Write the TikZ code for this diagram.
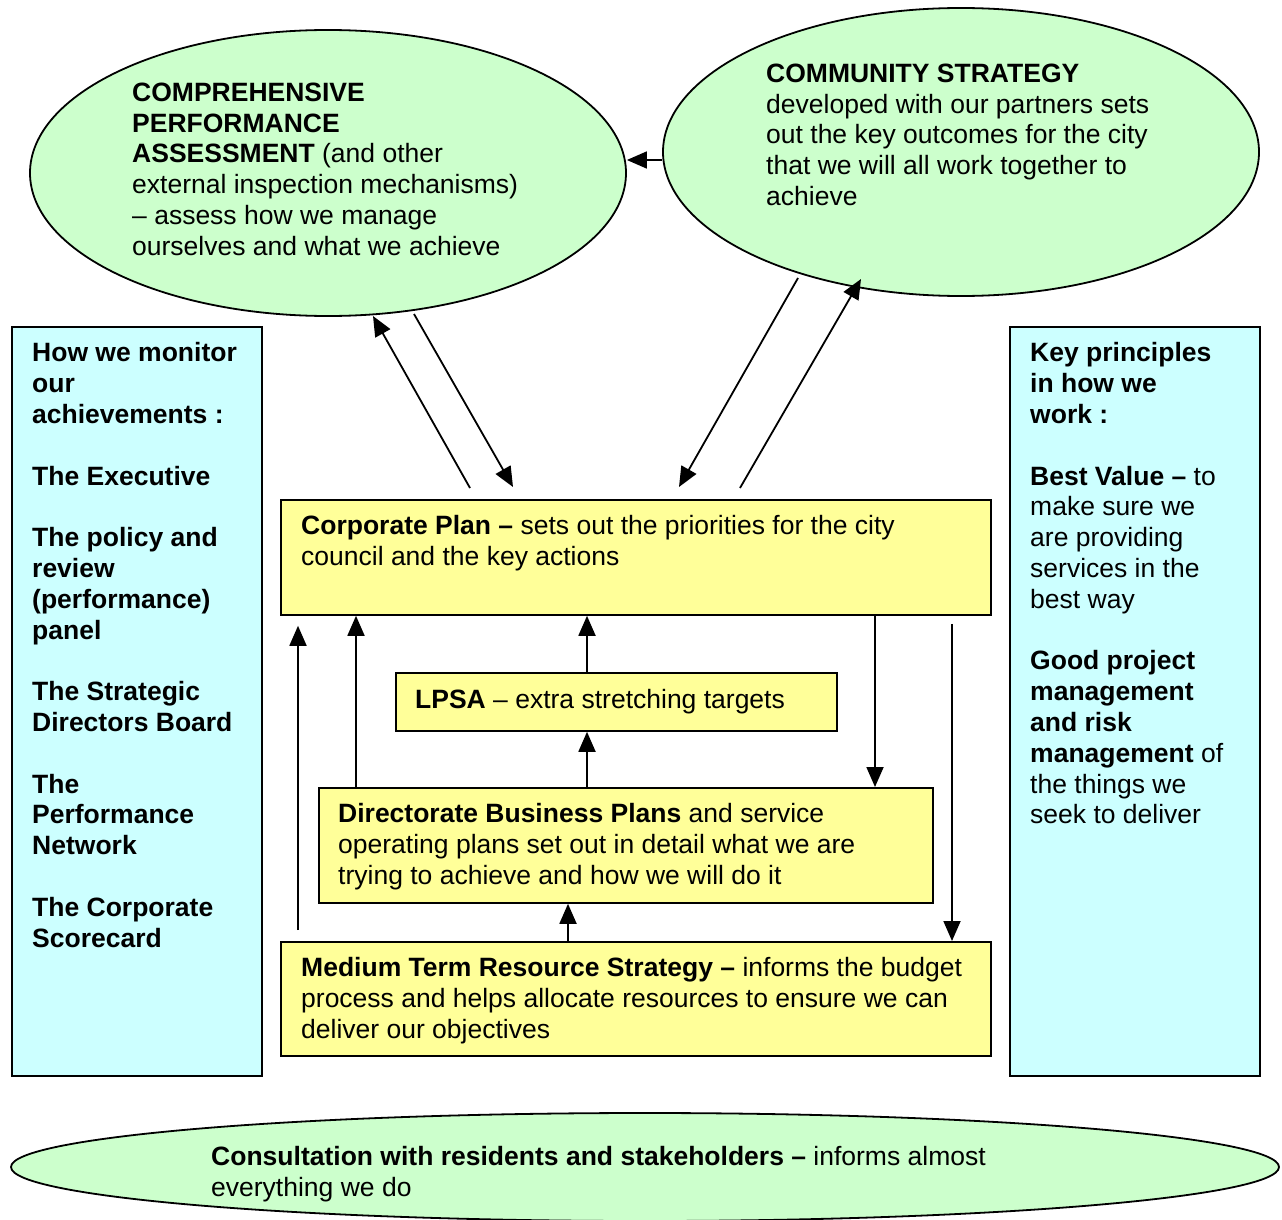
\documentclass[tikz,border=0pt]{standalone}
\usepackage{fontspec}
\setmainfont{Liberation Sans}
\usetikzlibrary{arrows.meta,shapes.geometric}
\definecolor{egreen}{HTML}{CCFFCC}
\definecolor{byellow}{HTML}{FFFF99}
\definecolor{bcyan}{HTML}{CCFFFF}
\tikzset{
  oval/.style={ellipse,draw=black,line width=1.8pt,fill=egreen,inner sep=0pt},
  ybox/.style={rectangle,draw=black,line width=1.8pt,fill=byellow,inner sep=0pt,anchor=north west},
  cbox/.style={rectangle,draw=black,line width=1.8pt,fill=bcyan,inner sep=0pt,anchor=north west},
  txt/.style={inner sep=0pt,anchor=north west,align=left,font=\fontsize{26.5}{30.8}\selectfont},
  arr/.style={line width=1.8pt,-{Triangle[length=20pt,width=17pt]}},
}
\begin{document}
\begin{tikzpicture}[x=1pt,y=-1pt]
\useasboundingbox (0,0) rectangle (1282,1220);
% ellipses
\node[oval,minimum width=596,minimum height=286] (cpa) at (328,173) {};
\node[oval,minimum width=596,minimum height=288] (cs) at (961,152) {};
\node[oval,minimum width=1268,minimum height=108] (cons) at (645,1167) {};
% side boxes
\node[cbox,minimum width=250,minimum height=749] (mon) at (11,326) {};
\node[cbox,minimum width=250,minimum height=749] (key) at (1009,326) {};
% yellow boxes
\node[ybox,minimum width=710,minimum height=115] (corp) at (280,499) {};
\node[ybox,minimum width=441,minimum height=58] (lpsa) at (395,672) {};
\node[ybox,minimum width=614,minimum height=115] (dir) at (318,787) {};
\node[ybox,minimum width=710,minimum height=114] (mtrs) at (280,941) {};
% texts
\node[txt] (cpat) at (132,82.5) {\textbf{COMPREHENSIVE}\\\textbf{PERFORMANCE}\\\textbf{ASSESSMENT} (and other\\external inspection mechanisms)\\– assess how we manage\\ourselves and what we achieve};
\node[txt] (cst) at (766,63.5) {\textbf{COMMUNITY STRATEGY}\\developed with our partners sets\\out the key outcomes for the city\\that we will all work together to\\achieve};
\node[txt] (mont) at (32,342.5) {\textbf{How we monitor}\\\textbf{our}\\\textbf{achievements :}\\[30.8pt]\textbf{The Executive}\\[30.8pt]\textbf{The policy and}\\\textbf{review}\\\textbf{(performance)}\\\textbf{panel}\\[30.8pt]\textbf{The Strategic}\\\textbf{Directors Board}\\[30.8pt]\textbf{The}\\\textbf{Performance}\\\textbf{Network}\\[30.8pt]\textbf{The Corporate}\\\textbf{Scorecard}};
\node[txt] (keyt) at (1030,342.5) {\textbf{Key principles}\\\textbf{in how we}\\\textbf{work :}\\[30.8pt]\textbf{Best Value –} to\\make sure we\\are providing\\services in the\\best way\\[30.8pt]\textbf{Good project}\\\textbf{management}\\\textbf{and risk}\\\textbf{management} of\\the things we\\seek to deliver};
\node[txt] (corpt) at (301,515.5) {\textbf{Corporate Plan –} sets out the priorities for the city\\council and the key actions};
\node[txt] (lpsat) at (415,689.5) {\textbf{LPSA} – extra stretching targets};
\node[txt] (dirt) at (338,803.5) {\textbf{Directorate Business Plans} and service\\operating plans set out in detail what we are\\trying to achieve and how we will do it};
\node[txt] (mtrst) at (301,957.5) {\textbf{Medium Term Resource Strategy –} informs the budget\\process and helps allocate resources to ensure we can\\deliver our objectives};
\node[txt] (const) at (211,1146) {\textbf{Consultation with residents and stakeholders –} informs almost\\everything we do};
% connector end points
\coordinate (a1s) at (470,488); \coordinate (a1e) at (373,316);
\coordinate (a2s) at (414,314); \coordinate (a2e) at (513,487);
\coordinate (a3s) at (798,278); \coordinate (a3e) at (679,487);
\coordinate (a4s) at (740,488); \coordinate (a4e) at (861,279);
\coordinate (xa) at (298,0); \coordinate (xb) at (356,0); \coordinate (xc) at (587,0);
\coordinate (xd) at (568,0); \coordinate (xe) at (875,0); \coordinate (xf) at (952,0);
% connectors
\draw[arr] (cs.west |- 0,160) -- (cpa.east |- 0,160);
\draw[arr] (a1s) -- (a1e);
\draw[arr] (a2s) -- (a2e);
\draw[arr] (a3s) -- (a3e);
\draw[arr] (a4s) -- (a4e);
\draw[arr,shorten <=11pt,shorten >=10pt] (mtrs.north -| xa) -- (corp.south -| xa);
\draw[arr] (dir.north -| xb) -- (corp.south -| xb);
\draw[arr] (lpsa.north -| xc) -- (corp.south -| xc);
\draw[arr] (dir.north -| xc) -- (lpsa.south -| xc);
\draw[arr] (mtrs.north -| xd) -- (dir.south -| xd);
\draw[arr] (corp.south -| xe) -- (dir.north -| xe);
\draw[arr,shorten <=8pt] (corp.south -| xf) -- (mtrs.north -| xf);
\end{tikzpicture}
\end{document}
